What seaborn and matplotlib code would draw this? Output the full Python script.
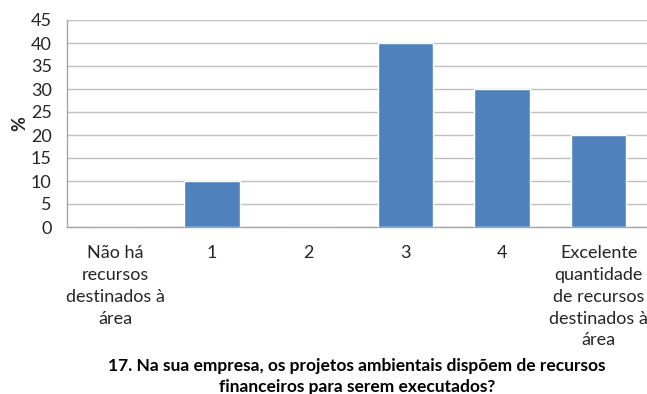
import matplotlib
matplotlib.use("Agg")
import matplotlib.pyplot as plt
import seaborn as sns
import pandas as pd

categories = [
    "Não há\nrecursos\ndestinados à\nárea",
    "1",
    "2",
    "3",
    "4",
    "Excelente\nquantidade\nde recursos\ndestinados à\nárea",
]
values = [0, 10, 0, 40, 30, 20]
yticks = [0, 5, 10, 15, 20, 25, 30, 35, 40, 45]
title = "17. Na sua empresa, os projetos ambientais dispõem de recursos\nfinanceiros para serem executados?"

sns.set_theme(style="white")
plt.rcParams["font.family"] = ["Lato", "DejaVu Sans"]

df = pd.DataFrame({"cat": categories, "val": values})

fig = plt.figure(figsize=(6.47, 3.94), dpi=100)
ax = fig.add_axes([67 / 647, 1 - 227 / 394, (647 - 67) / 647, (227 - 20) / 394])

sns.barplot(data=df, x="cat", y="val", color="#4F81BD", saturation=1,
            width=0.57, ax=ax, zorder=3)

ax.set_ylim(0, 45)
ax.set_xlim(-0.5, len(categories) - 0.5)
ax.set_yticks(yticks)
ax.yaxis.grid(True, color="#BFBFBF", linewidth=1, zorder=0)
ax.set_axisbelow(True)
for side in ["top", "right"]:
    ax.spines[side].set_visible(False)
for side in ["left", "bottom"]:
    ax.spines[side].set_color("#A6A6A6")
    ax.spines[side].set_linewidth(1)

ax.tick_params(axis="y", labelsize=13, colors="#262626", length=0, pad=11)
ax.tick_params(axis="x", labelsize=13, colors="#262626", length=0, pad=13)
ax.set_ylabel("%", fontsize=13, fontweight="bold", color="#262626", labelpad=2)
ax.set_xlabel(title, fontsize=12.5, fontweight="bold", color="#000000", labelpad=7, linespacing=1.35)
for lbl in ax.get_xticklabels():
    lbl.set_linespacing(1.45)

fig.savefig("out.png", dpi=100)
